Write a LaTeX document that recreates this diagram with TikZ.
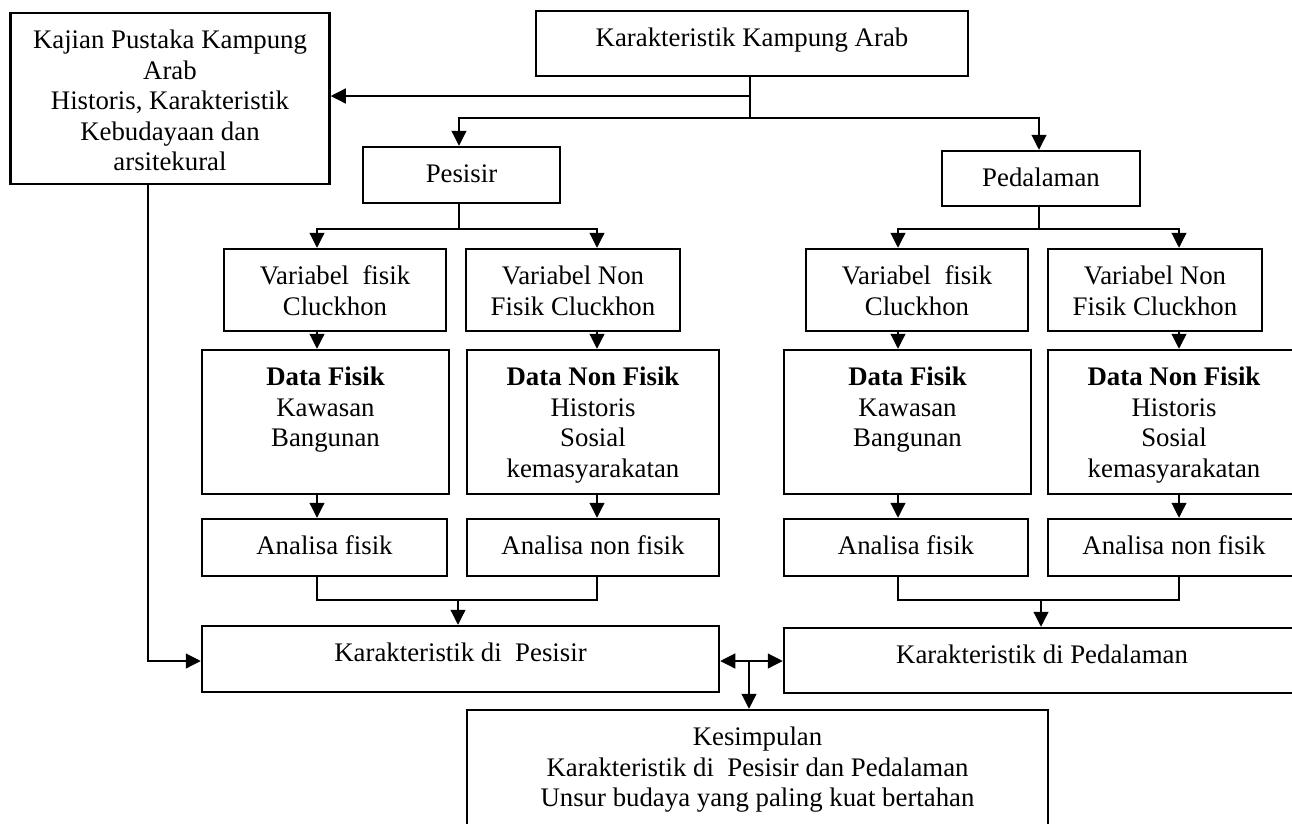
\documentclass[tikz,border=0pt]{standalone}
\usepackage{fontspec}
\setmainfont{Liberation Serif}
\usetikzlibrary{arrows.meta}
\tikzset{
  bx/.style={draw, line width=2.5pt, inner sep=0pt},
  txt/.style={inner sep=0pt, align=center, font=\fontsize{26.8}{30.5}\selectfont},
  ln/.style={line width=1.2pt},
  arr/.style={ln, -{Triangle[length=15pt,width=15pt]}},
}
\newcommand\mkbox[5]{\node[bx, minimum width=#4pt, minimum height=#5pt] (#1) at (#2,#3) {};}
\newcommand\mktext[2]{\node[txt, anchor=north] (#1t) at ([yshift=-15.5pt]#1.north) {\strut #2};}
\begin{document}
\begin{tikzpicture}[x=1pt, y=-1pt]
\useasboundingbox (0,0) rectangle (1292,823);
\clip (0,0) rectangle (1292,823);
% boxes
\mkbox{kaj}{170}{98.5}{319}{171}
\mkbox{kka}{752}{43.5}{432}{65}
\mkbox{pes}{461.5}{175}{197}{56}
\mkbox{ped}{1041}{178.5}{198}{55}
\mkbox{vfL}{335}{290}{222}{82}
\mkbox{vnL}{573}{290}{214}{82}
\mkbox{vfR}{917}{290}{222}{82}
\mkbox{vnR}{1155}{290}{214}{82}
\mkbox{dfL}{325.5}{422}{247}{144}
\mkbox{dnL}{593}{422}{252}{144}
\mkbox{dfR}{907.5}{422}{247}{144}
\mkbox{dnR}{1174}{422}{252}{144}
\mkbox{afL}{324.5}{547.5}{245}{57}
\mkbox{anL}{593}{547.5}{252}{57}
\mkbox{afR}{906}{547.5}{244}{57}
\mkbox{anR}{1174}{547.5}{252}{57}
\mkbox{kP}{460.5}{659}{517}{66}
\mkbox{kD}{1042}{660.5}{516}{65}
\mkbox{kes}{757.5}{780}{581}{140}
% texts
\mktext{kaj}{Kajian Pustaka Kampung\\Arab\\Historis, Karakteristik\\Kebudayaan dan\\arsitekural}
\mktext{kka}{Karakteristik Kampung Arab}
\mktext{pes}{Pesisir}
\mktext{ped}{Pedalaman}
\mktext{vfL}{Variabel\ \ fisik\\Cluckhon}
\mktext{vnL}{Variabel Non\\Fisik Cluckhon}
\mktext{vfR}{Variabel\ \ fisik\\Cluckhon}
\mktext{vnR}{Variabel Non\\Fisik Cluckhon}
\mktext{dfL}{\textbf{Data Fisik}\\Kawasan\\Bangunan}
\mktext{dnL}{\textbf{Data Non Fisik}\\Historis\\Sosial\\kemasyarakatan}
\mktext{dfR}{\textbf{Data Fisik}\\Kawasan\\Bangunan}
\mktext{dnR}{\textbf{Data Non Fisik}\\Historis\\Sosial\\kemasyarakatan}
\mktext{afL}{Analisa fisik}
\mktext{anL}{Analisa non fisik}
\mktext{afR}{Analisa fisik}
\mktext{anR}{Analisa non fisik}
\mktext{kP}{Karakteristik di\ \ Pesisir}
\mktext{kD}{Karakteristik di Pedalaman}
\mktext{kes}{Kesimpulan\\Karakteristik di\ \ Pesisir dan Pedalaman\\Unsur budaya yang paling kuat bertahan}
% helper coordinates
\coordinate (t1) at (750,96);
\coordinate (t2) at (750,118);
\coordinate (xa) at (317,0);
\coordinate (xb) at (597,0);
\coordinate (xc) at (898,0);
\coordinate (xd) at (1179,0);
\coordinate (xk) at (148,0);
\coordinate (pb) at (459,229);
\coordinate (db) at (1039,229);
\coordinate (m1) at (458,600);
\coordinate (m2) at (1041,600);
\coordinate (mid) at (749,661);
% connectors
\draw[arr] (kka.south -| t1) -- (t1) -- (kaj.east |- t1);
\draw[ln] (t1) -- (t2);
\draw[arr] (t2) -| (pes.north -| pb);
\draw[arr] (t2) -| (ped.north -| db);
% pesisir branch
\draw[ln] (pes.south -| pb) -- (pb);
\draw[arr] (pb) -| (vfL.north -| xa);
\draw[arr] (pb) -| (vnL.north -| xb);
\draw[arr] (vfL.south -| xa) -- (dfL.north -| xa);
\draw[arr] (vnL.south -| xb) -- (dnL.north -| xb);
\draw[arr] (dfL.south -| xa) -- (afL.north -| xa);
\draw[arr] (dnL.south -| xb) -- (anL.north -| xb);
\draw[ln] (afL.south -| xa) |- (m1) -| (anL.south -| xb);
\draw[arr] (m1) -- (kP.north -| m1);
% pedalaman branch
\draw[ln] (ped.south -| db) -- (db);
\draw[arr] (db) -| (vfR.north -| xc);
\draw[arr] (db) -| (vnR.north -| xd);
\draw[arr] (vfR.south -| xc) -- (dfR.north -| xc);
\draw[arr] (vnR.south -| xd) -- (dnR.north -| xd);
\draw[arr] (dfR.south -| xc) -- (afR.north -| xc);
\draw[arr] (dnR.south -| xd) -- (anR.north -| xd);
\draw[ln] (afR.south -| xc) |- (m2) -| (anR.south -| xd);
\draw[arr] (m2) -- (kD.north -| m2);
% kajian to pesisir
\draw[arr] (kaj.south -| xk) |- (kP.west |- mid);
% bottom
\draw[arr] (mid) -- (kP.east |- mid);
\draw[arr] (mid) -- (kD.west |- mid);
\draw[arr] (mid) -- (kes.north -| mid);
\end{tikzpicture}
\end{document}
